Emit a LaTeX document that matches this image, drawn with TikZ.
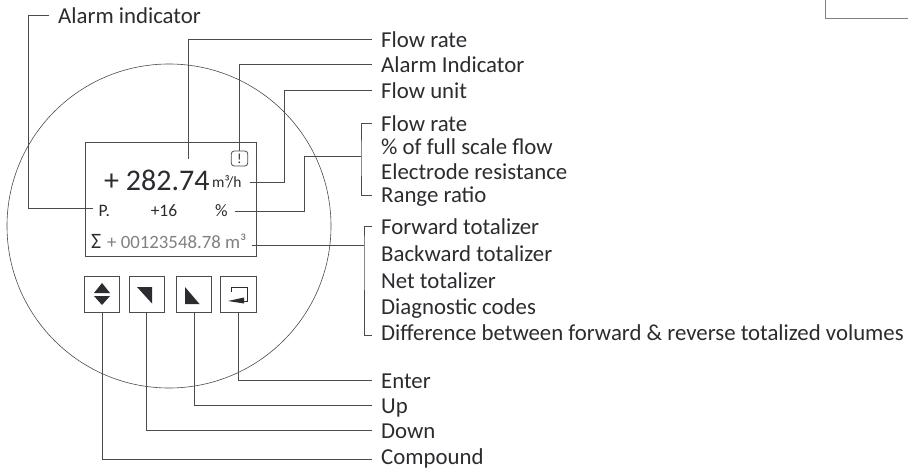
\documentclass[tikz,border=0pt]{standalone}
\usepackage{fontspec}
\setmainfont{Carlito}
\usetikzlibrary{positioning}
\definecolor{inkline}{HTML}{4A4A52}
\definecolor{inktext}{HTML}{2B2B30}
\begin{document}
\begin{tikzpicture}[x=1pt,y=-1pt]
\tikzset{
leader/.style = {draw=inkline, line width=1pt},
lbl/.style = {anchor=west, inner ysep=0pt, inner xsep=9pt, text height=16pt, text depth=0pt, text=inktext, font=\fontsize{22.8}{24}\selectfont},
lcd/.style = {inner sep=0pt, text=inktext, font=\fontsize{17.5}{18}\selectfont},
btn/.style = {rectangle, draw=inkline, line width=1pt, minimum width=35.5pt, minimum height=36pt, inner sep=0pt},
icon/.style = {fill=inktext, draw=none}}

\useasboundingbox (0,0) rectangle (908,468);

\draw [draw=inkline, line width=0.6pt] (169,226) circle (162);
\node [rectangle, draw=inkline, line width=1pt, minimum width=171pt, minimum height=113pt, inner sep=0pt] (LCD) at (170.5,199.5) {};

% readings on the display
\node [lcd, anchor=base west, font=\fontsize{30}{36}\selectfont] (Reading) at (104,190.7) {+ 282.74};
\node [lcd, anchor=west, text height=8pt, text depth=0pt, font=\fontsize{15.5}{18}\selectfont, inner xsep=0pt] (Unit) at (212,183) {m³/h};
\node [lcd, anchor=west, text height=16pt, text depth=0pt, inner xsep=6pt] (Ptext) at (92.5,208.7) {P.};
\node [lcd, anchor=base] (Plus) at (164,216.7) {+16};
\node [lcd, anchor=west, text height=10pt, text depth=0pt] (Pct) at (215,211.7) {\%};
\node [lcd, anchor=base west, font=\fontsize{22}{24}\selectfont] (Sigma) at (91,248.7) {Σ};
\node [lcd, anchor=west, text height=6pt, text depth=0pt, text=gray, font=\fontsize{18.8}{20}\selectfont] (Total) at (107,245.7) {+ 00123548.78 m³};
\node [rectangle, draw=inkline, line width=0.8pt, rounded corners=3pt, minimum width=16.5pt, minimum height=15pt, inner sep=0pt, font=\fontsize{14}{14}\selectfont, text=inktext] (Warn) at (239.5,158.5) {!};

% buttons
\node [btn] (BtnBoth) at (102,294) {};
\node [btn] (BtnDown) at (146.8,294) {};
\node [btn] (BtnUp) at (194,294) {};
\node [btn] (BtnEnter) at (238.6,294) {};
\fill [icon] (94,293) -- (102,283) -- (110,293) -- cycle;
\fill [icon] (94,296) -- (102,305) -- (110,296) -- cycle;
\fill [icon] (137,287) -- (152,287) -- (152,303.5) -- cycle;
\fill [icon] (185,287) -- (185,304) -- (199.5,304) -- cycle;
\draw [inktext, line width=1pt] (231,292) -- (231,287) -- (247,287) -- (247,301) -- (240,301);
\fill [icon] (228,301) -- (244,297.5) -- (244,303.5) -- cycle;

% labels on the right
\node [lbl] (lblAlarmTop) at (49,16) {Alarm indicator};
\node [lbl] (lblRate) at (372,40) {Flow rate};
\node [lbl] (lblIndicator) at (372,65) {Alarm Indicator};
\node [lbl] (lblUnit) at (372,91) {Flow unit};
\node [lbl] (lblRateB) at (372,124) {Flow rate};
\node [lbl] (lblPct) at (372,147) {\% of full scale flow};
\node [lbl] (lblResist) at (372,171) {Electrode resistance};
\node [lbl] (lblRange) at (372,195) {Range ratio};
\node [lbl] (lblFwd) at (372,226) {Forward totalizer};
\node [lbl] (lblBack) at (372,253) {Backward totalizer};
\node [lbl] (lblNet) at (372,280) {Net totalizer};
\node [lbl] (lblDiag) at (372,306) {Diagnostic codes};
\node [lbl,text height=10pt] (lblDiff) at (372,335) {Difference between forward \& reverse totalized volumes};
\node [lbl] (lblEnter) at (372,380) {Enter};
\node [lbl] (lblUp) at (372,405) {Up};
\node [lbl] (lblDown) at (372,430) {Down};
\node [lbl,text height=10pt] (lblBoth) at (372,459) {Compound};

\coordinate (FreeRate) at (188.5,159);
\coordinate (FreeUnit) at (250,183);
\coordinate (FreePct) at (235,211.7);
\coordinate (FreeTotal) at (252,245.7);
\coordinate (BendAlarm) at (28,16);
\coordinate (BendUnit) at (284.7,91);
\coordinate (BendPct) at (304,157);
\coordinate (BusPct) at (361,157);
\coordinate (BusTotal) at (364,245.7);

\draw [leader] (Ptext.west) -| (BendAlarm) -- (lblAlarmTop.west);
\draw [leader] (FreeRate) |- (lblRate.west);
\draw [leader] (Warn.north) |- (lblIndicator.west);
\draw [leader] (FreeUnit) -| (BendUnit) -- (lblUnit.west);
\draw [leader] (FreePct) -| (BendPct) -- (BusPct);
\draw [leader] (lblRateB.west) -| (BusPct) |- (lblRange.west);
\draw [leader] (FreeTotal) -- (BusTotal);
\draw [leader] (lblFwd.west) -| (BusTotal) |- (lblDiff.west);
\draw [leader] (BtnEnter.south) |- (lblEnter.west);
\draw [leader] (BtnUp.south) |- (lblUp.west);
\draw [leader] (BtnDown.south) |- (lblDown.west);
\draw [leader] (BtnBoth.south) |- (lblBoth.west);

% stray corner in the top right
\coordinate (CornerTop) at (825,0);
\coordinate (CornerEnd) at (908,19);
\draw [draw=gray, line width=1pt] (CornerTop) |- (CornerEnd);
\end{tikzpicture}
\end{document}
